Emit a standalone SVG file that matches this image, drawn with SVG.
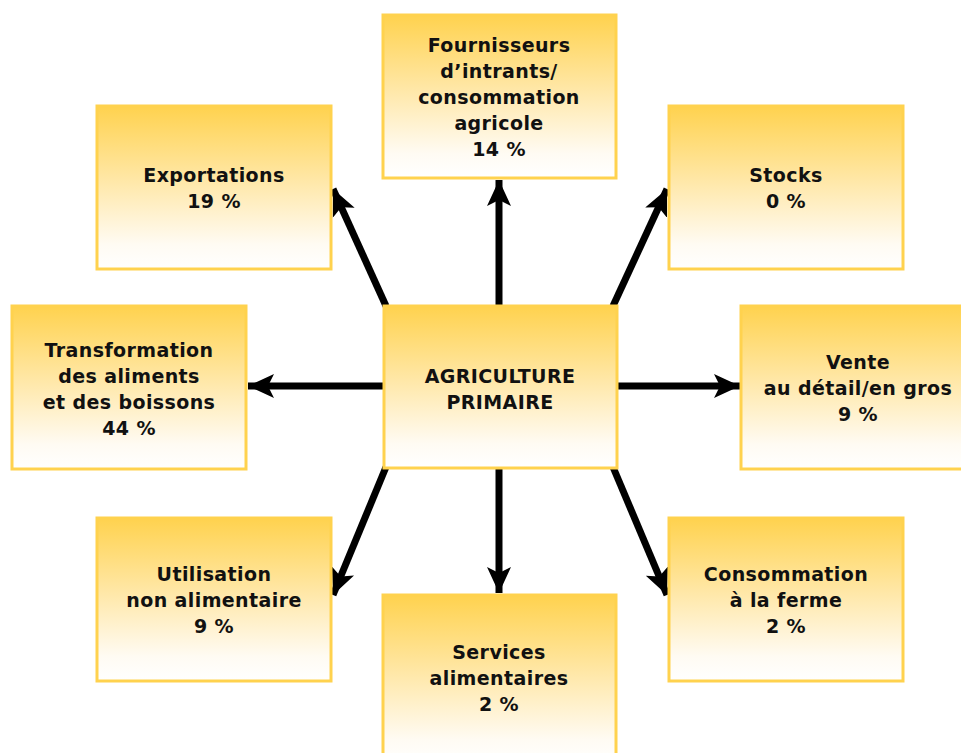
<svg xmlns="http://www.w3.org/2000/svg" width="961" height="753" viewBox="0 0 961 753">
<defs>
<linearGradient id="g" x1="0" y1="0" x2="0" y2="1">
<stop offset="0" stop-color="#FFD24E"/>
<stop offset="0.45" stop-color="#FFE7A6"/>
<stop offset="0.85" stop-color="#FFFBF3"/>
<stop offset="1" stop-color="#FFFFFF"/>
</linearGradient>
<marker id="ah" markerUnits="userSpaceOnUse" markerWidth="28" markerHeight="28" viewBox="0 0 28 28" refX="26" refY="14" orient="auto">
<path d="M0,2 L26,14 L0,26 L6,14 Z" fill="#000"/>
</marker>
<style>
.box{fill:url(#g);stroke:#FFD24E;stroke-width:3}
.t{font-family:"DejaVu Sans","Liberation Sans",sans-serif;font-weight:bold;font-size:19px;letter-spacing:0.4px;fill:#111;text-anchor:middle}
.c{stroke:#000;stroke-width:7;fill:none;marker-end:url(#ah)}
</style>
</defs>
<rect width="961" height="753" fill="#fff"/>
<g id="connectors">
<line class="c" x1="499" y1="306" x2="499" y2="180"/>
<line class="c" x1="384" y1="386" x2="248" y2="386"/>
<line class="c" x1="616" y1="386" x2="740" y2="386"/>
<line class="c" x1="499" y1="467" x2="499" y2="593"/>
<line class="c" x1="386" y1="306" x2="333" y2="189"/>
<line class="c" x1="613" y1="306" x2="667" y2="189"/>
<line class="c" x1="386" y1="467" x2="333" y2="595"/>
<line class="c" x1="613" y1="467" x2="667" y2="595"/>
</g>
<g id="n-fournisseurs">
<rect class="box" x="383" y="15" width="233" height="163"/>
<text class="t" x="499" y="52">Fournisseurs</text>
<text class="t" x="499" y="78">d’intrants/</text>
<text class="t" x="499" y="104">consommation</text>
<text class="t" x="499" y="130">agricole</text>
<text class="t" x="499" y="156">14 %</text>
</g>
<g id="n-exportations">
<rect class="box" x="97" y="106" width="234" height="163"/>
<text class="t" x="214" y="182">Exportations</text>
<text class="t" x="214" y="208">19 %</text>
</g>
<g id="n-stocks">
<rect class="box" x="669" y="106" width="234" height="163"/>
<text class="t" x="786" y="182">Stocks</text>
<text class="t" x="786" y="208">0 %</text>
</g>
<g id="n-transformation">
<rect class="box" x="12" y="306" width="234" height="163"/>
<text class="t" x="129" y="357">Transformation</text>
<text class="t" x="129" y="383">des aliments</text>
<text class="t" x="129" y="409">et des boissons</text>
<text class="t" x="129" y="435">44 %</text>
</g>
<g id="n-agriculture">
<rect class="box" x="384" y="306" width="233" height="162"/>
<text class="t" x="500" y="383">AGRICULTURE</text>
<text class="t" x="500" y="409">PRIMAIRE</text>
</g>
<g id="n-vente">
<rect class="box" x="741" y="306" width="234" height="163"/>
<text class="t" x="858" y="369">Vente</text>
<text class="t" x="858" y="395">au détail/en gros</text>
<text class="t" x="858" y="421">9 %</text>
</g>
<g id="n-utilisation">
<rect class="box" x="97" y="518" width="234" height="163"/>
<text class="t" x="214" y="581">Utilisation</text>
<text class="t" x="214" y="607">non alimentaire</text>
<text class="t" x="214" y="633">9 %</text>
</g>
<g id="n-services">
<rect class="box" x="383" y="595" width="233" height="170"/>
<text class="t" x="499" y="659">Services</text>
<text class="t" x="499" y="685">alimentaires</text>
<text class="t" x="499" y="711">2 %</text>
</g>
<g id="n-consommation">
<rect class="box" x="669" y="518" width="234" height="163"/>
<text class="t" x="786" y="581">Consommation</text>
<text class="t" x="786" y="607">à la ferme</text>
<text class="t" x="786" y="633">2 %</text>
</g>
</svg>
